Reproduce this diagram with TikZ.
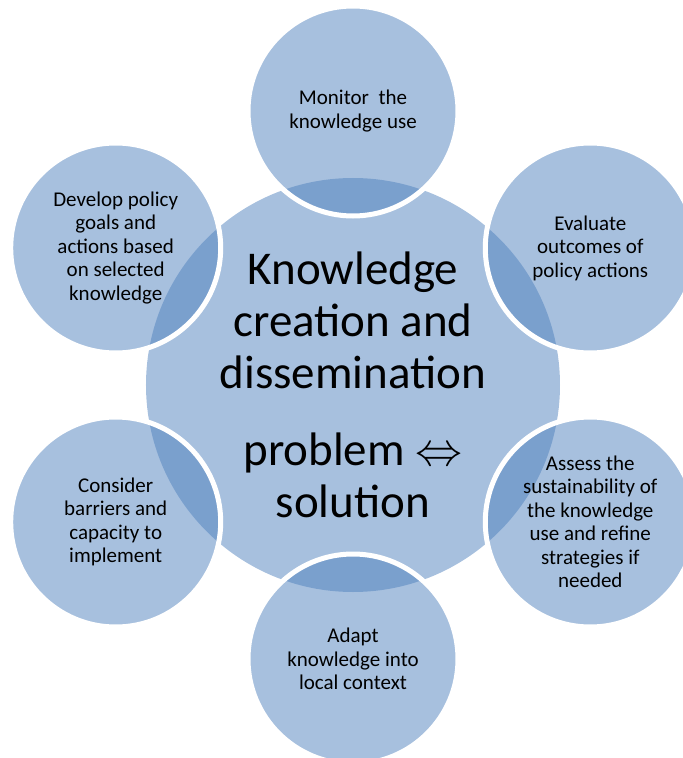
\RequirePackage{fix-cm}
\documentclass[tikz,border=0pt]{standalone}
\usepackage{fontspec}
\setmainfont{Carlito}
\definecolor{cycleblue}{HTML}{4F81BD}

\begin{document}
\begin{tikzpicture}[
			x=1pt, y=1pt,
			hub/.style={circle, inner sep=0pt, minimum size=414pt, fill=cycleblue, fill opacity=.5, text opacity=1, align=center, font=\fontsize{47}{52}\selectfont},
			spoke/.style={circle, inner sep=0pt, minimum size=210pt, fill=cycleblue, fill opacity=.5, text opacity=1, draw=white, line width=5pt, align=center, font=\fontsize{21}{23.5}\selectfont}
			]

			\clip (-353,-373) rectangle (330,385);

			\node[hub] (hub) at (0,0) {Knowledge\\creation and\\dissemination\\[25pt]problem $\Leftrightarrow$\\solution};

			\node[spoke] (monitor) at (90:274) {Monitor\ \ the\\knowledge use};
			\node[spoke] (evaluate) at (30:274) {Evaluate\\outcomes of\\policy actions};
			\node[spoke] (assess) at (-30:274) {Assess the\\sustainability of\\the knowledge\\use and refine\\strategies if\\needed};
			\node[spoke] (adapt) at (-90:274) {Adapt\\knowledge into\\local context};
			\node[spoke] (consider) at (-150:274) {Consider\\barriers and\\capacity to\\implement};
			\node[spoke] (develop) at (150:274) {Develop policy\\goals and\\actions based\\on selected\\knowledge};

		\end{tikzpicture}
\end{document}
